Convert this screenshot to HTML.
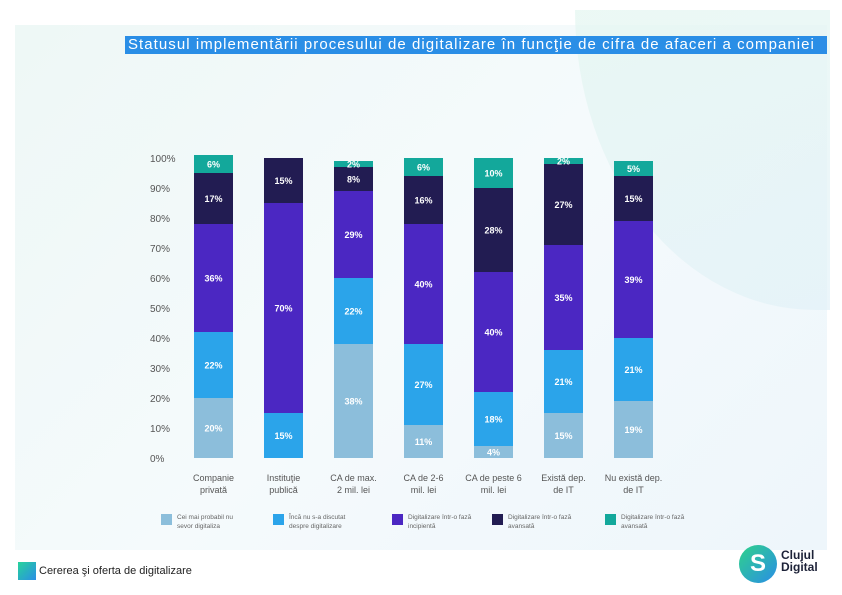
<!DOCTYPE html>
<html><head><meta charset="utf-8"><style>
body{margin:0;width:842px;height:595px;background:#fff;overflow:hidden;font-family:"Liberation Sans",sans-serif;position:relative}
</style></head><body>
<div style="position:absolute;left:15px;top:25px;width:812px;height:525px;background:linear-gradient(135deg,#eef8f6,#f5fafc 50%,#eef6fb)"></div>
<div style="position:absolute;left:575px;top:10px;width:255px;height:300px;background:linear-gradient(160deg,#e3f6f0,#e2f1f8);border-bottom-left-radius:240px 300px;opacity:.7"></div>
<div style="position:absolute;left:125px;top:36px;width:699px;height:18px;background:#2a8ee6;color:#fff;font-size:15px;line-height:18px;padding-left:3px;white-space:nowrap;letter-spacing:1.05px;overflow:hidden">Statusul implementării procesului de digitalizare în funcţie de cifra de afaceri a companiei</div>
<svg id="chart" width="842" height="595" style="position:absolute;left:0;top:0"></svg>
<div style="position:absolute;left:18px;top:562px;width:18px;height:18px;background:linear-gradient(135deg,#27d39b,#2a8ee6)"></div>
<div style="position:absolute;left:39px;top:565px;font-size:11px;color:#222">Cererea şi oferta de digitalizare</div>
<div style="position:absolute;left:739px;top:545px;width:38px;height:38px;border-radius:50%;background:linear-gradient(135deg,#2fd28a,#2a8ee6);color:#fff;font-size:24px;line-height:38px;text-align:center;font-weight:bold">S</div>
<div style="position:absolute;left:781px;top:549px;font-size:12px;line-height:12px;color:#1d2238;font-weight:bold">Clujul<br>Digital</div>
<script>
const categories=["Companie\nprivată","Instituţie\npublică","CA de max.\n2 mil. lei","CA de 2-6\nmil. lei","CA de peste 6\nmil. lei","Există dep.\nde IT","Nu există dep.\nde IT"];
const seriesNames=["Cei mai probabil nu\nsevor digitaliza","Încă nu s-a discutat\ndespre digitalizare","Digitalizare într-o fază\nincipientă","Digitalizare într-o fază\navansată","Digitalizare într-o fază\navansată"];
const s1=[20,0,38,11,4,15,19];
const s2=[22,15,22,27,18,21,21];
const s3=[36,70,29,40,40,35,39];
const s4=[17,15,8,16,28,27,15];
const s5=[6,0,2,6,10,2,5];
const ticks=[0,10,20,30,40,50,60,70,80,90,100];
const colors=["#8cbedb","#2ba4ea","#4b27c2","#221c52","#13a89b"];
const series=[s1,s2,s3,s4,s5];
const svg=document.getElementById('chart');const NS="http://www.w3.org/2000/svg";
const y0=458,k=3,x0=194,step=70,bw=39;
const y=v=>y0-v*k;const xc=i=>x0+bw/2+i*step;
function el(t,a){const e=document.createElementNS(NS,t);for(const n in a)e.setAttribute(n,a[n]);svg.appendChild(e);return e;}
ticks.forEach(t=>{const e=el('text',{x:150,y:y(t)+4,'font-size':10,fill:'#555'});e.textContent=t+'%';

});
categories.forEach((c,i)=>{let cum=0;series.forEach((s,j)=>{const v=s[i];if(!v)return;
const r=el('rect',{x:xc(i)-bw/2,y:y(cum+v),width:bw,height:v*k,fill:colors[j]});


const t=el('text',{x:xc(i),y:y(cum+v/2)+3.5,'font-size':9,'font-weight':'bold',fill:'#fff','text-anchor':'middle'});t.textContent=v+'%';


cum+=v;});
c.split('\n').forEach((ln,li)=>{const t=el('text',{x:xc(i),y:481+li*12,'font-size':9,fill:'#555','text-anchor':'middle'});t.textContent=ln;

});});
const lx=[161,273,392,492,605];
seriesNames.forEach((n,j)=>{const r=el('rect',{x:lx[j],y:514,width:11,height:11,fill:colors[j]});


n.split('\n').forEach((ln,li)=>{const t=el('text',{x:lx[j]+16,y:519+li*9,'font-size':6.5,fill:'#666'});t.textContent=ln;

});});
</script>
</body></html>
